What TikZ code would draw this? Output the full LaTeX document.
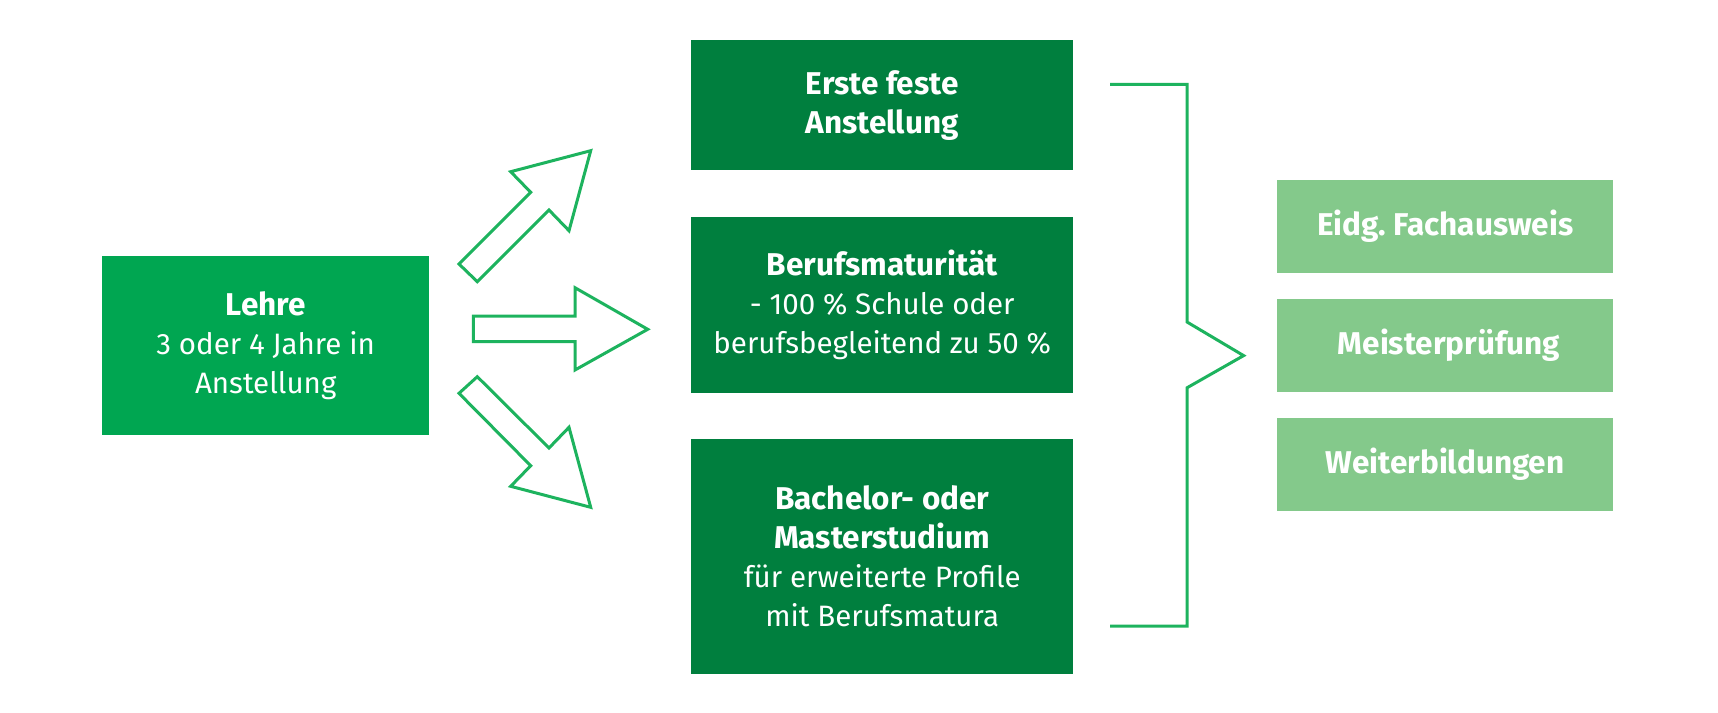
\documentclass[tikz,border=0pt]{standalone}
\usepackage{fontspec}
\setmainfont{Fira Sans}
\definecolor{brightgreen}{HTML}{00A651}
\definecolor{darkgreen}{HTML}{007F3E}
\definecolor{lightgreen}{HTML}{84C98B}
\definecolor{linegreen}{HTML}{1DB35E}
\newcommand\hb[1]{{\fontsize{31.5}{39}\selectfont\bfseries #1}}
\tikzset{
  box/.style={anchor=north west, inner sep=0pt, align=center, text=white,
    font=\fontsize{29.5}{39}\selectfont},
  outline/.style={draw=linegreen, line width=3pt, line join=miter},
}
\begin{document}
\begin{tikzpicture}[x=1pt,y=-1pt]
\useasboundingbox (0,0) rectangle (1718,712);
% left box
\node[box, fill=brightgreen, minimum width=327pt, minimum height=179pt] (lehre) at (102,256)
  {\hb{Lehre}\\3 oder 4 Jahre in\\Anstellung};
% middle boxes
\node[box, fill=darkgreen, minimum width=382pt, minimum height=130pt] (erste) at (691,40)
  {\hb{Erste feste}\\\hb{Anstellung}};
\node[box, fill=darkgreen, minimum width=382pt, minimum height=176pt] (bm) at (691,217)
  {\hb{Berufsmaturität}\\- 100 \% Schule oder\\berufsbegleitend zu 50 \%};
\node[box, fill=darkgreen, minimum width=382pt, minimum height=235pt] (ba) at (691,439)
  {\hb{Bachelor- oder}\\\hb{Masterstudium}\\für erweiterte Profile\\mit Berufsmatura};
% right boxes
\node[box, fill=lightgreen, minimum width=336pt, minimum height=93pt] (eidg) at (1277,180)
  {\hb{Eidg.\ Fachausweis}};
\node[box, fill=lightgreen, minimum width=336pt, minimum height=93pt] (meister) at (1277,299)
  {\hb{\ Meisterprüfung}};
\node[box, fill=lightgreen, minimum width=336pt, minimum height=93pt] (weiter) at (1277,418)
  {\hb{Weiterbildungen}};
% arrows (outlined shapes)
\draw[outline] (459,264) -- (477.3,281.7) -- (549,210) -- (569,230.7) -- (590.7,150.7)
  -- (510.7,171.7) -- (530.7,192.3) -- cycle;
\draw[outline] (473.3,316) -- (575,316) -- (575,287.7) -- (647.7,329.3) -- (575,370)
  -- (575,341.7) -- (473.3,341.7) -- cycle;
\draw[outline] (459,393.3) -- (477.3,376.7) -- (549,448) -- (569,427.3) -- (590.7,507.3)
  -- (510.7,486.3) -- (530.7,465.7) -- cycle;
% bracket
\coordinate (btop) at (1110,84.4);
\coordinate (bbot) at (1110,626);
\coordinate (btip) at (1243.6,355.6);
\draw[outline] (btop) -- (1187,84.4) -- (1187,322) -- (btip) -- (1187,387.8)
  -- (1187,626) -- (bbot);
\end{tikzpicture}
\end{document}
